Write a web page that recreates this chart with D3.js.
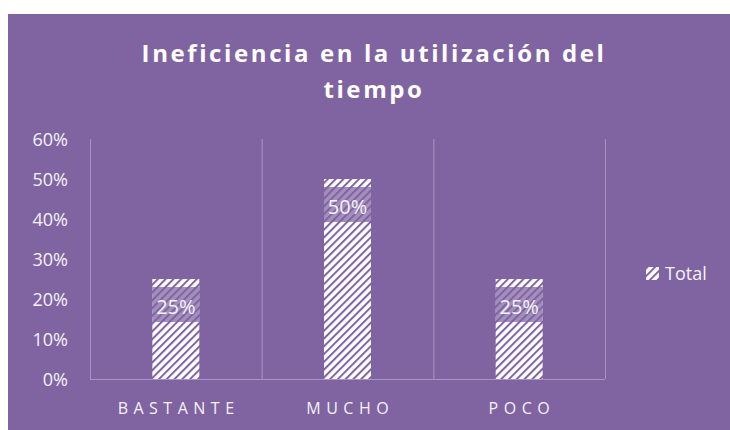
<!DOCTYPE html>
<html>
<head>
<meta charset="utf-8">
<script src="https://cdn.jsdelivr.net/npm/d3@7.9.0/dist/d3.min.js"></script>
<style>
  html, body { margin: 0; padding: 0; background: #fff; }
  svg { display: block; }
</style>
</head>
<body>
<svg id="chart" width="730" height="430"></svg>
<script>
const categories = ['BASTANTE', 'MUCHO', 'POCO'];
const values = [0.25, 0.50, 0.25];
const yTicks = [0, 0.1, 0.2, 0.3, 0.4, 0.5, 0.6];
const seriesName = 'Total';
const titleLines = ['Ineficiencia en la utilización del', 'tiempo'];

const purple = '#8064a2';
const gridColor = '#a992c4';
const textColor = '#f4f2f7';
const font = 'Open Sans, sans-serif';

const svg = d3.select('#chart');

// background panel
svg.append('rect')
  .attr('x', 8).attr('y', 14)
  .attr('width', 722).attr('height', 416)
  .attr('fill', purple);

// hatch pattern (wide upward diagonal)
const defs = svg.append('defs');
const pat = defs.append('pattern')
  .attr('id', 'hatch')
  .attr('patternUnits', 'userSpaceOnUse')
  .attr('width', 5.5).attr('height', 5.5)
  .attr('patternTransform', 'rotate(45)');
pat.append('rect').attr('width', 5.5).attr('height', 5.5).attr('fill', '#ffffff');
pat.append('rect').attr('width', 2).attr('height', 5.5).attr('fill', purple);

const x = d3.scaleBand()
  .domain(categories)
  .range([90, 605]);

const y = d3.scaleLinear()
  .domain([0, 0.6])
  .range([379, 139]);

// vertical gridlines at category boundaries
const bounds = categories.map(c => x(c)).concat([x.range()[1]]);
svg.append('g')
  .selectAll('line')
  .data(bounds)
  .join('line')
  .attr('x1', d => d + 0.5).attr('x2', d => d + 0.5)
  .attr('y1', y(0.6)).attr('y2', y(0))
  .attr('stroke', gridColor);

// baseline
svg.append('line')
  .attr('x1', 90).attr('x2', 605)
  .attr('y1', y(0) + 0.5).attr('y2', y(0) + 0.5)
  .attr('stroke', gridColor);

// y axis labels
const gy = svg.append('g')
  .attr('transform', 'translate(68,0)')
  .call(d3.axisLeft(y).tickValues(yTicks).tickFormat(d3.format('.0%')).tickSize(0).tickPadding(0));
gy.select('.domain').remove();
gy.selectAll('text')
  .attr('fill', textColor)
  .attr('font-family', font)
  .attr('font-size', 18)
  .attr('dy', '0.36em');

// x axis labels
const catSpacing = 5.5;
const gx = svg.append('g')
  .attr('transform', `translate(0,${y(0)})`)
  .call(d3.axisBottom(x).tickSize(0).tickPadding(0));
gx.select('.domain').remove();
gx.selectAll('text')
  .attr('fill', textColor)
  .attr('font-family', font)
  .attr('font-size', 16)
  .attr('letter-spacing', catSpacing + 'px')
  .attr('x', catSpacing / 2)
  .attr('y', 35)
  .attr('dy', 0);

// bars
const barW = 47;
const data = categories.map((c, i) => ({ cat: c, value: values[i] }));
svg.append('g')
  .selectAll('rect')
  .data(data)
  .join('rect')
  .attr('x', d => x(d.cat) + x.bandwidth() / 2 - barW / 2)
  .attr('y', d => y(d.value))
  .attr('width', barW)
  .attr('height', d => y(0) - y(d.value))
  .attr('fill', 'url(#hatch)');

// data labels with shaded box
const labels = svg.append('g')
  .selectAll('g')
  .data(data)
  .join('g')
  .attr('transform', d => `translate(${x(d.cat) + x.bandwidth() / 2},${y(d.value)})`);
labels.append('rect')
  .attr('x', -barW / 2).attr('y', 8)
  .attr('width', barW).attr('height', 35)
  .attr('fill', purple)
  .attr('fill-opacity', 0.72);
labels.append('text')
  .attr('text-anchor', 'middle')
  .attr('y', 35)
  .attr('fill', textColor)
  .attr('font-family', font)
  .attr('font-size', 20)
  .text(d => d3.format('.0%')(d.value));

// title
svg.append('g')
  .selectAll('text')
  .data(titleLines)
  .join('text')
  .attr('x', 374)
  .attr('y', (d, i) => 62 + i * 36)
  .attr('text-anchor', 'middle')
  .attr('fill', '#ffffff')
  .attr('font-family', font)
  .attr('font-weight', 'bold')
  .attr('font-size', 24)
  .attr('letter-spacing', '2.6px')
  .text(d => d);

// legend
const leg = svg.append('g').attr('transform', 'translate(646,267)');
leg.append('rect')
  .attr('width', 13).attr('height', 13)
  .attr('fill', 'url(#hatch)');
leg.append('text')
  .attr('x', 19).attr('y', 13)
  .attr('fill', textColor)
  .attr('font-family', font)
  .attr('font-size', 18)
  .text(seriesName);
</script>
</body>
</html>
